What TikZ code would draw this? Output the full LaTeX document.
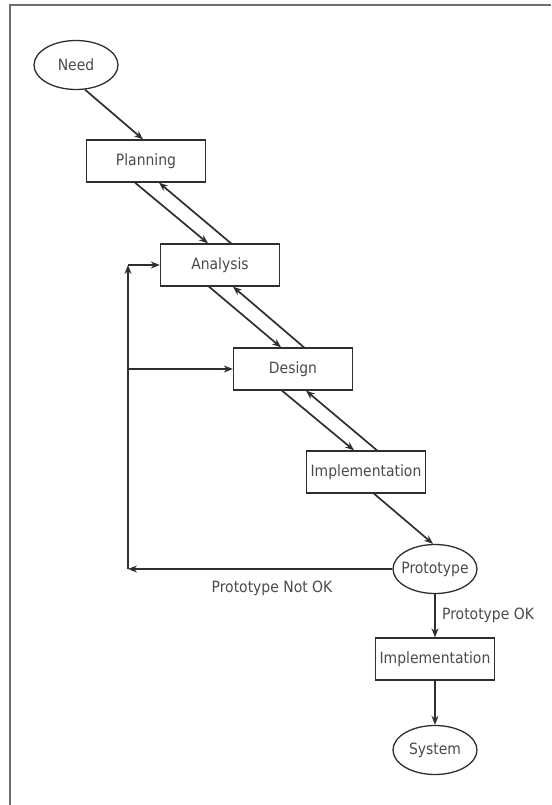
\documentclass[tikz,border=0pt]{standalone}
\usepackage{fontspec}
\setmainfont{DejaVu Sans Condensed}
\usetikzlibrary{shapes.geometric,arrows.meta}
\definecolor{linec}{HTML}{2E2E2E}
\definecolor{textc}{HTML}{4A4A4A}
\definecolor{framec}{HTML}{6E6E6E}
\newcommand{\ovaltext}[1]{\makebox[0pt]{#1}}
\begin{document}
\begin{tikzpicture}[x=1pt,y=-1pt,
  every node/.style={font=\fontsize{15.5}{17}\selectfont, text=textc},
  boxnode/.style={draw=linec, line width=1.3pt, rectangle, minimum width=119pt, minimum height=42pt, inner sep=0pt},
  ovalnode/.style={draw=linec, line width=1.3pt, ellipse, minimum width=84pt, minimum height=49pt, inner sep=0pt},
  arr/.style={draw=linec, line width=1.7pt, -{Stealth[length=9pt,width=7pt]}},
  lbl/.style={inner sep=0pt}]
\useasboundingbox (0,0) rectangle (551,805);
\draw[framec, line width=1.5pt] (10,805) -- (10,5) -- (551,5);

\node[ovalnode] (need) at (76,65) {\ovaltext{Need}};
\node[boxnode] (plan) at (146,161) {Planning};
\node[boxnode] (ana) at (220,265) {Analysis};
\node[boxnode] (des) at (293,369) {Design};
\node[boxnode] (imp1) at (366,472) {Implementation};
\node[ovalnode] (proto) at (435,569) {\ovaltext{Prototype}};
\node[boxnode] (imp2) at (435,659) {Implementation};
\node[ovalnode] (sys) at (435,750) {\ovaltext{System}};

\node[lbl] (nok) at (272,588) {Prototype Not OK};
\node[lbl, anchor=west] (ok) at (442,615) {Prototype OK};

\draw[arr] (need.-70) -- ([xshift=-3pt]plan.north);
\draw[arr] ([xshift=-11pt]plan.south) -- ([xshift=-12pt]ana.north);
\draw[arr] ([xshift=11pt]ana.north) -- ([xshift=13pt]plan.south);
\draw[arr] ([xshift=-11pt]ana.south) -- ([xshift=-12pt]des.north);
\draw[arr] ([xshift=11pt]des.north) -- ([xshift=13pt]ana.south);
\draw[arr] ([xshift=-11pt]des.south) -- ([xshift=-12pt]imp1.north);
\draw[arr] ([xshift=11pt]imp1.north) -- ([xshift=13pt]des.south);
\draw[arr] ([xshift=8pt]imp1.south) -- ([xshift=-2pt]proto.north);

\coordinate (cl) at (128,569);
\coordinate (ct) at (cl |- ana.west);
\coordinate (cm) at (cl |- des.west);
\draw[arr] (proto.west) -- (cl);
\draw[arr] (cl) -- (ct);
\draw[arr] (ct) -- (ana.west);
\draw[arr] (cm) -- (des.west);

\draw[arr] (proto.south) -- (imp2.north);
\draw[arr] (imp2.south) -- (sys.north);
\end{tikzpicture}
\end{document}
